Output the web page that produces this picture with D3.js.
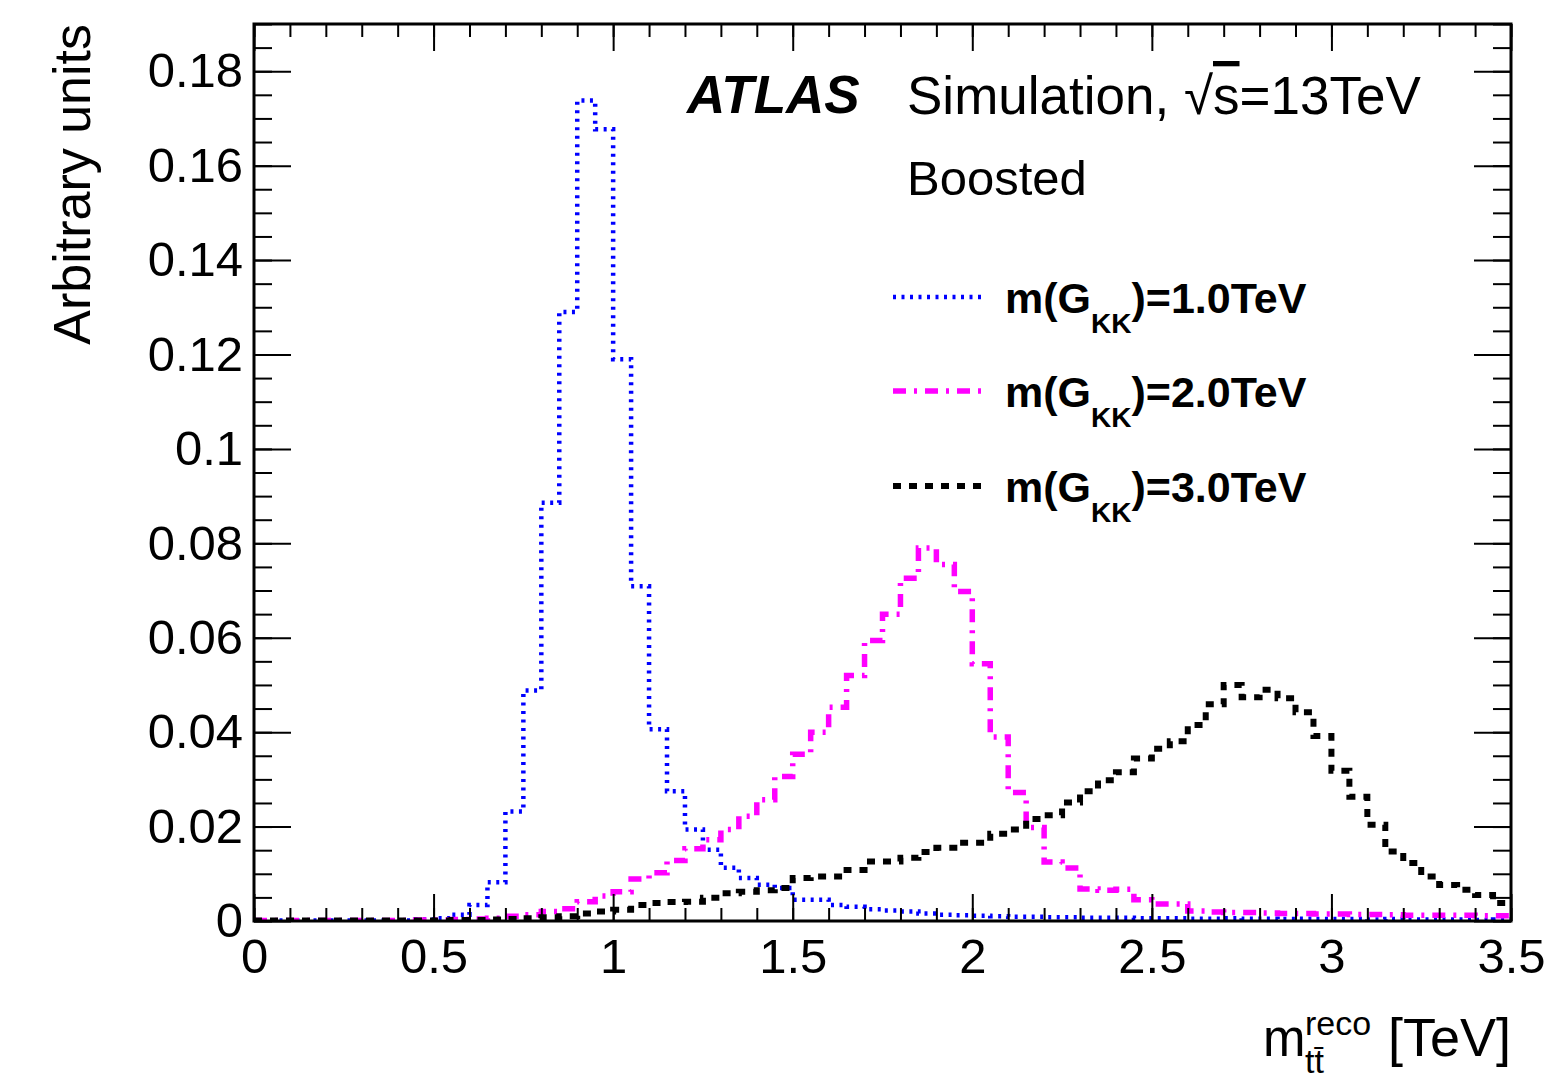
<!DOCTYPE html>
<html>
<head>
<meta charset="utf-8">
<script src="https://cdn.jsdelivr.net/npm/d3@7"></script>
<style>
  body { margin: 0; background: #fff; }
  text { font-family: "Liberation Sans", Arial, Helvetica, sans-serif; }
</style>
</head>
<body>
<div id="canvas"></div>
<script>
// bin edges: 70 bins of 0.05 TeV from 0 to 3.5
var binLow = d3.range(70).map(i => +(i * 0.05).toFixed(2))

var gkk1 = [
  0.0001, 0.0001, 0.0001, 0.0001, 0.0001, 0.0001, 0.0001, 0.0001, 0.0001, 0.0003,
  0.0006, 0.0013, 0.0034, 0.0082, 0.0232, 0.0488, 0.0886, 0.1290, 0.1738, 0.1677,
  0.1190, 0.0709, 0.0406, 0.0275, 0.0194, 0.0151, 0.0113, 0.0091, 0.0077, 0.0070,
  0.0045, 0.0045, 0.0034, 0.0030, 0.0025, 0.0022, 0.0020, 0.0016, 0.0013, 0.0012,
  0.0011, 0.0010, 0.0009, 0.0009, 0.0008, 0.0008, 0.0007, 0.0007, 0.0007, 0.0006,
  0.0006, 0.0006, 0.0005, 0.0005, 0.0006, 0.0005, 0.0005, 0.0004, 0.0005, 0.0004,
  0.0004, 0.0004, 0.0003, 0.0004, 0.0003, 0.0003, 0.0003, 0.0003, 0.0002, 0.0003
]
var gkk2 = [
  0.0001, 0.0001, 0.0001, 0.0001, 0.0001, 0.0001, 0.0001, 0.0001, 0.0001, 0.0002,
  0.0002, 0.0003, 0.0004, 0.0006, 0.0010, 0.0013, 0.0020, 0.0026, 0.0041, 0.0053,
  0.0062, 0.0089, 0.0102, 0.0128, 0.0153, 0.0172, 0.0194, 0.0222, 0.0257, 0.0306,
  0.0353, 0.0400, 0.0453, 0.0520, 0.0594, 0.0650, 0.0726, 0.0790, 0.0755, 0.0698,
  0.0545, 0.0390, 0.0272, 0.0198, 0.0125, 0.0112, 0.0068, 0.0065, 0.0067, 0.0045,
  0.0036, 0.0036, 0.0021, 0.0019, 0.0018, 0.0018, 0.0017, 0.0016, 0.0016, 0.0015,
  0.0015, 0.0014, 0.0014, 0.0013, 0.0012, 0.0012, 0.0012, 0.0012, 0.0011, 0.0011
]
var gkk3 = [
  0.0001, 0.0001, 0.0001, 0.0001, 0.0001, 0.0001, 0.0001, 0.0001, 0.0001, 0.0001,
  0.0001, 0.0002, 0.0002, 0.0003, 0.0004, 0.0006, 0.0008, 0.0010, 0.0016, 0.0020,
  0.0024, 0.0034, 0.0038, 0.0040, 0.0041, 0.0049, 0.0059, 0.0062, 0.0065, 0.0070,
  0.0091, 0.0094, 0.0094, 0.0108, 0.0126, 0.0126, 0.0134, 0.0146, 0.0155, 0.0166,
  0.0166, 0.0185, 0.0194, 0.0216, 0.0224, 0.0251, 0.0275, 0.0298, 0.0315, 0.0344,
  0.0365, 0.0381, 0.0415, 0.0459, 0.0500, 0.0474, 0.0490, 0.0472, 0.0442, 0.0392,
  0.0318, 0.0263, 0.0204, 0.0147, 0.0123, 0.0094, 0.0076, 0.0066, 0.0055, 0.0038
]

var seriesNames = ['1.0', '2.0', '3.0']
var seriesColors = ['#0000ff', '#ff00ff', '#000000']
var seriesDash = ['3,5.5', '13,8,3,8', '8,8']
var seriesWidth = [4.5, 5.5, 6]
var seriesData = [gkk1, gkk2, gkk3]

var xTicks = [0, 0.5, 1, 1.5, 2, 2.5, 3, 3.5]
var yTicks = [0, 0.02, 0.04, 0.06, 0.08, 0.1, 0.12, 0.14, 0.16, 0.18]

var margin = { top: 24, right: 46, bottom: 158, left: 254 }
var fullWidth = 1557, fullHeight = 1079
var width = fullWidth - margin.left - margin.right
var height = fullHeight - margin.top - margin.bottom

var svg = d3.select('#canvas').append('svg')
  .attr('width', fullWidth)
  .attr('height', fullHeight)

var g = svg.append('g')
  .attr('transform', 'translate(' + margin.left + ',' + margin.top + ')')

var x = d3.scaleLinear().domain([0, 3.5]).range([0, width])
var y = d3.scaleLinear().domain([0, 0.19]).range([height, 0])

g.append('clipPath').attr('id', 'plotclip')
  .append('rect').attr('width', width).attr('height', height)

// histograms as step outlines
var line = d3.line()
  .x(d => x(d[0]))
  .y(d => y(d[1]))
  .curve(d3.curveStepAfter)

seriesData.forEach((vals, i) => {
  var pts = binLow.map((b, j) => [b, vals[j]])
  pts.push([3.5, vals[vals.length - 1]])
  g.append('path')
    .attr('clip-path', 'url(#plotclip)')
    .attr('d', line(pts))
    .attr('fill', 'none')
    .attr('stroke', seriesColors[i])
    .attr('stroke-width', seriesWidth[i])
    .attr('stroke-dasharray', seriesDash[i])
})

// axes, ROOT style ticks pointing inward
var fmt = d => d === 0 ? '0' : String(+d.toFixed(2))
var minorY = d3.range(0, 0.1901, 0.005)
var minorX = d3.range(0, 3.501, 0.1)

function styleAxis(sel, fontSize) {
  sel.select('.domain').remove()
  sel.selectAll('line').attr('stroke', '#000').attr('stroke-width', 2)
  sel.selectAll('text')
    .attr('fill', '#000')
    .style('font-size', fontSize + 'px')
    .style('font-family', '"Liberation Sans", Arial, sans-serif')
}

g.append('g').call(d3.axisLeft(y).tickValues(minorY).tickSize(-18).tickFormat(''))
  .call(s => styleAxis(s, 0))
g.append('g').call(d3.axisLeft(y).tickValues(yTicks).tickSize(-37).tickPadding(11).tickFormat(fmt))
  .call(s => styleAxis(s, 49))
g.append('g').attr('transform', 'translate(' + width + ',0)')
  .call(d3.axisRight(y).tickValues(minorY).tickSize(-18).tickFormat(''))
  .call(s => styleAxis(s, 0))
g.append('g').attr('transform', 'translate(' + width + ',0)')
  .call(d3.axisRight(y).tickValues(yTicks).tickSize(-37).tickFormat(''))
  .call(s => styleAxis(s, 0))

g.append('g').attr('transform', 'translate(0,' + height + ')')
  .call(d3.axisBottom(x).tickValues(minorX).tickSize(-13).tickFormat(''))
  .call(s => styleAxis(s, 0))
g.append('g').attr('transform', 'translate(0,' + height + ')')
  .call(d3.axisBottom(x).tickValues(xTicks).tickSize(-27).tickPadding(17).tickFormat(fmt))
  .call(s => styleAxis(s, 49))
g.append('g')
  .call(d3.axisTop(x).tickValues(minorX).tickSize(-13).tickFormat(''))
  .call(s => styleAxis(s, 0))
g.append('g')
  .call(d3.axisTop(x).tickValues(xTicks).tickSize(-27).tickFormat(''))
  .call(s => styleAxis(s, 0))

// frame
g.append('rect')
  .attr('width', width).attr('height', height)
  .attr('fill', 'none').attr('stroke', '#000').attr('stroke-width', 3)

// axis titles
svg.append('text')
  .attr('transform', 'translate(90,24) rotate(-90)')
  .attr('text-anchor', 'end')
  .style('font-size', '52px')
  .text('Arbitrary units')

var xt = svg.append('g')
xt.append('text').attr('x', 1263).attr('y', 1056).style('font-size', '51px').text('m')
xt.append('text').attr('x', 1305).attr('y', 1035).style('font-size', '34px').text('reco')
xt.append('text').attr('x', 1305).attr('y', 1073).style('font-size', '34px').text('tt\u0304')
xt.append('text').attr('x', 1511).attr('y', 1056).attr('text-anchor', 'end')
  .style('font-size', '54px').text('[TeV]')

// labels
svg.append('text').attr('x', 687).attr('y', 113)
  .style('font-size', '53px').style('font-weight', 'bold').style('font-style', 'italic')
  .text('ATLAS')
var sim = svg.append('text').attr('x', 907).attr('y', 114).style('font-size', '53px')
sim.append('tspan').text('Simulation, \u221A')
sim.append('tspan').style('text-decoration', 'overline').text('s')
sim.append('tspan').text('=13TeV')
svg.append('text').attr('x', 907).attr('y', 195).style('font-size', '49px').text('Boosted')

// legend
var legY = [297, 391, 486]
seriesNames.forEach((name, i) => {
  svg.append('line')
    .attr('x1', 893).attr('x2', 983)
    .attr('y1', legY[i]).attr('y2', legY[i])
    .attr('stroke', seriesColors[i])
    .attr('stroke-width', seriesWidth[i])
    .attr('stroke-dasharray', seriesDash[i])
  var t = svg.append('text')
    .attr('x', 1005).attr('y', legY[i] + 16)
    .style('font-size', '43px').style('font-weight', 'bold')
  t.append('tspan').text('m(G')
  t.append('tspan').attr('dy', 20).style('font-size', '28px').text('KK')
  t.append('tspan').attr('dy', -20).text(')=' + name + 'TeV')
})
</script>
</body>
</html>
